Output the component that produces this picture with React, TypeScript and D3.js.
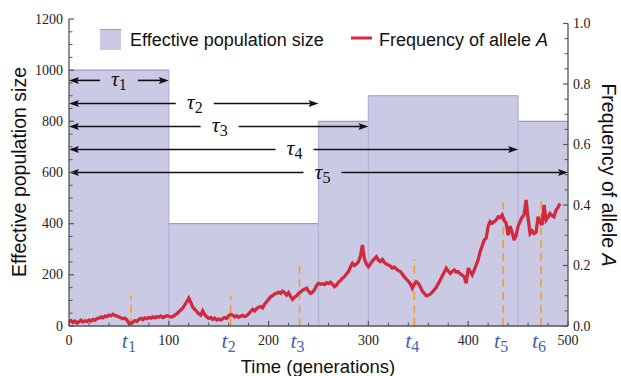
import React from "react";
import * as d3 from "d3";

// ---- data ----
const stepBounds = [0, 100, 250, 300, 450, 500];
const popSizes = [1000, 400, 800, 900, 800];

const freqStartGen = 0;
const freqStepGen = 2;
const alleleFreq = [
  0.015, 0.018, 0.012, 0.016, 0.010, 0.014, 0.019, 0.013, 0.017, 0.015,
  0.020, 0.016, 0.022, 0.019, 0.025, 0.026, 0.030, 0.027, 0.033, 0.031,
  0.036, 0.034, 0.039, 0.035, 0.033, 0.030, 0.027, 0.024, 0.026, 0.020,
  0.010, 0.008, 0.013, 0.018, 0.015, 0.022, 0.025, 0.021, 0.027, 0.024,
  0.028, 0.026, 0.030, 0.027, 0.031, 0.029, 0.033, 0.028, 0.031, 0.034,
  0.033, 0.030, 0.031, 0.036, 0.040, 0.047, 0.053, 0.060, 0.070, 0.080,
  0.092, 0.078, 0.062, 0.055, 0.048, 0.040, 0.036, 0.050, 0.038, 0.030,
  0.025, 0.028, 0.022, 0.026, 0.020, 0.023, 0.020, 0.024, 0.028, 0.025,
  0.034, 0.038, 0.036, 0.030, 0.034, 0.029, 0.032, 0.035, 0.031, 0.034,
  0.040, 0.048, 0.055, 0.050, 0.058, 0.062, 0.064, 0.060, 0.072, 0.080,
  0.088, 0.097, 0.100, 0.106, 0.108, 0.112, 0.108, 0.115, 0.110, 0.102,
  0.110, 0.098, 0.088, 0.095, 0.100, 0.108, 0.113, 0.118, 0.122, 0.125,
  0.115, 0.108, 0.112, 0.120, 0.133, 0.141, 0.138, 0.140, 0.137, 0.143,
  0.140, 0.145, 0.138, 0.130, 0.135, 0.145, 0.150, 0.158, 0.163, 0.172,
  0.180, 0.195, 0.207, 0.200, 0.205, 0.212, 0.230, 0.268, 0.222, 0.205,
  0.196, 0.205, 0.215, 0.222, 0.229, 0.218, 0.213, 0.220, 0.210, 0.205,
  0.202, 0.198, 0.191, 0.195, 0.188, 0.183, 0.180, 0.172, 0.162, 0.155,
  0.148, 0.140, 0.125, 0.138, 0.146, 0.141, 0.130, 0.115, 0.108, 0.100,
  0.102, 0.105, 0.112, 0.119, 0.128, 0.140, 0.152, 0.165, 0.178, 0.191,
  0.182, 0.174, 0.180, 0.185, 0.178, 0.180, 0.172, 0.168, 0.163, 0.141,
  0.191, 0.180, 0.169, 0.185, 0.202, 0.220, 0.246, 0.265, 0.284, 0.290,
  0.330, 0.345, 0.340, 0.345, 0.350, 0.361, 0.358, 0.367, 0.350, 0.340,
  0.300, 0.330, 0.310, 0.284, 0.300, 0.330, 0.345, 0.360, 0.367, 0.417,
  0.356, 0.306, 0.315, 0.306, 0.310, 0.361, 0.345, 0.334, 0.400, 0.350,
  0.360, 0.372, 0.365, 0.361, 0.383, 0.392, 0.405,
];

const sampleTimes = [62, 162, 231, 346, 435, 473];
const sampleTops = [0.10, 0.10, 0.215, 0.22, 0.408, 0.424];
const sampleLabels = ["1", "2", "3", "4", "5", "6"];

const tauEnds = [100, 250, 300, 450, 500];
const tauLevels = [960, 870, 780, 690, 600];
const tauLabelGen = [50, 126, 151, 226, 254];
const tauLabels = ["1", "2", "3", "4", "5"];

const xTicks = [0, 100, 200, 300, 400, 500];
const leftTicks = [0, 200, 400, 600, 800, 1000, 1200];
const rightTicks = [0, 0.2, 0.4, 0.6, 0.8, 1.0];

// ---- layout ----
const W = 621, H = 376;
const X0 = 69, X1 = 568, Y0 = 326, YTOP = 19, YTOPR = 23.5;

const FILL = "#cbcae5";
const EDGE = "#9a9acb";
const VEDGE = "#b3b2da";
const RED = "#d12a3e";
const ORANGE = "#f59b2a";
const BLUE = "#4a5fae";
const AXIS = "#555";
const SERIF = "'Liberation Serif', 'DejaVu Serif', serif";
const SANS = "'Liberation Sans', Arial, sans-serif";

export default function App() {
  const x = d3.scaleLinear().domain([0, 500]).range([X0, X1]);
  const yN = d3.scaleLinear().domain([0, 1200]).range([Y0, YTOP]);
  const yF = d3.scaleLinear().domain([0, 1]).range([Y0, YTOPR]);

  const freqPts = alleleFreq.map((f, i) => [freqStartGen + i * freqStepGen, f] as [number, number]);
  const line = d3.line<[number, number]>().x(d => x(d[0])).y(d => yF(d[1]));

  const areaPts: [number, number][] = [];
  popSizes.forEach((n, i) => {
    areaPts.push([stepBounds[i], n]);
    areaPts.push([stepBounds[i + 1], n]);
  });
  const area = d3.area<[number, number]>().x(d => x(d[0])).y0(Y0).y1(d => yN(d[1]));

  const leftMinor = d3.range(0, 1201, 50).filter(v => v % 200 !== 0);
  const bottomMinor = d3.range(0, 501, 20).filter(v => v % 100 !== 0);
  const rightMinor = d3.range(0, 1.001, 0.05).filter(v => Math.abs(v * 5 - Math.round(v * 5)) > 1e-6);

  const arrowHead = (px: number, py: number, dir: number) => {
    const L = 10, Hh = 3.5;
    return `M${px},${py} L${px - dir * L},${py - Hh} L${px - dir * L * 0.8},${py} L${px - dir * L},${py + Hh} Z`;
  };

  return (
    <svg width={W} height={H} style={{ position: "absolute", left: 0, top: 0, background: "#fff" }}>
      {/* population size area */}
      <path d={area(areaPts) || ""} fill={FILL} stroke="none" />
      {popSizes.map((n, i) => (
        <line key={"top" + i} x1={x(stepBounds[i])} x2={x(stepBounds[i + 1])} y1={yN(n)} y2={yN(n)} stroke={EDGE} strokeWidth={1.2} />
      ))}
      {stepBounds.slice(1, -1).map((b, i) => (
        <line key={"v" + i} x1={x(b)} x2={x(b)} y1={Y0} y2={yN(Math.max(popSizes[i], popSizes[i + 1]))} stroke={VEDGE} strokeWidth={1.3} />
      ))}

      {/* tau arrows */}
      {tauEnds.map((e, i) => {
        const y = yN(tauLevels[i]);
        const cx = x(tauLabelGen[i]);
        const gap = 19;
        const xa = x(0), xb = x(e);
        return (
          <g key={"tau" + i}>
            <line x1={xa + 6} x2={cx - gap} y1={y} y2={y} stroke="#111" strokeWidth={1.6} />
            <line x1={cx + gap} x2={xb - 6} y1={y} y2={y} stroke="#111" strokeWidth={1.6} />
            <path d={arrowHead(xa, y, -1)} fill="#111" />
            <path d={arrowHead(xb, y, 1)} fill="#111" />
            <text x={cx} y={y + 6} textAnchor="middle" fontFamily={SERIF} fontSize={22} fill="#111">
              <tspan fontStyle="italic">τ</tspan>
              <tspan fontSize={16} dy={4}>{tauLabels[i]}</tspan>
            </text>
          </g>
        );
      })}

      {/* sampling times */}
      {sampleTimes.map((t, i) => (
        <line key={"s" + i} x1={x(t)} x2={x(t)} y1={Y0} y2={yF(sampleTops[i])} stroke={ORANGE} strokeWidth={1.6} strokeDasharray="8,5" />
      ))}

      {/* frequency line */}
      <path d={line(freqPts) || ""} fill="none" stroke={RED} strokeWidth={3.3} strokeLinejoin="miter" strokeMiterlimit={3} />

      {/* axes */}
      <line x1={X0} x2={X0} y1={YTOP} y2={Y0} stroke={AXIS} strokeWidth={1.3} />
      <line x1={X0} x2={X1} y1={Y0} y2={Y0} stroke={AXIS} strokeWidth={1.3} />
      <line x1={X1} x2={X1} y1={YTOPR} y2={Y0} stroke={AXIS} strokeWidth={1.3} />

      {leftTicks.map(v => (
        <g key={"lt" + v}>
          <line x1={X0} x2={X0 + 5} y1={yN(v)} y2={yN(v)} stroke={AXIS} strokeWidth={1.2} />
          <text x={X0 - 6} y={yN(v) + 4.5} textAnchor="end" fontFamily={SERIF} fontSize={14} fill="#222">{v}</text>
        </g>
      ))}
      {leftMinor.map(v => (
        <line key={"lm" + v} x1={X0} x2={X0 + 3.5} y1={yN(v)} y2={yN(v)} stroke={AXIS} strokeWidth={1} />
      ))}

      {rightTicks.map(v => (
        <g key={"rt" + v}>
          <line x1={X1} x2={X1 - 5} y1={yF(v)} y2={yF(v)} stroke={AXIS} strokeWidth={1.2} />
          <text x={X1 + 5} y={yF(v) + 4.5} textAnchor="start" fontFamily={SERIF} fontSize={14} fill="#222">{v.toFixed(1)}</text>
        </g>
      ))}
      {rightMinor.map(v => (
        <line key={"rm" + v} x1={X1} x2={X1 - 3.5} y1={yF(v)} y2={yF(v)} stroke={AXIS} strokeWidth={1} />
      ))}

      {xTicks.map(v => (
        <g key={"xt" + v}>
          <line x1={x(v)} x2={x(v)} y1={Y0} y2={Y0 - 5} stroke={AXIS} strokeWidth={1.2} />
          <text x={x(v)} y={Y0 + 19} textAnchor="middle" fontFamily={SERIF} fontSize={14} fill="#222">{v}</text>
        </g>
      ))}
      {bottomMinor.map(v => (
        <line key={"bm" + v} x1={x(v)} x2={x(v)} y1={Y0} y2={Y0 - 3.5} stroke={AXIS} strokeWidth={1} />
      ))}

      {/* sample labels */}
      {sampleTimes.map((t, i) => (
        <text key={"sl" + i} x={x(t) - 2} y={Y0 + 22} textAnchor="middle" fontFamily={SERIF} fontSize={22} fill={BLUE}>
          <tspan fontStyle="italic">t</tspan>
          <tspan fontSize={16} dy={4}>{sampleLabels[i]}</tspan>
        </text>
      ))}

      {/* axis titles */}
      <text x={318} y={373} textAnchor="middle" fontFamily={SANS} fontSize={18.5} fill="#111">Time (generations)</text>
      <text transform="translate(26,172) rotate(-90)" textAnchor="middle" fontFamily={SANS} fontSize={19.5} fill="#111">Effective population size</text>
      <text transform="translate(602,175) rotate(90)" textAnchor="middle" fontFamily={SANS} fontSize={19.5} fill="#111">
        Frequency of allele <tspan fontStyle="italic">A</tspan>
      </text>

      {/* legend */}
      <rect x={100} y={29} width={21} height={21} fill={FILL} />
      <line x1={100} x2={121} y1={29.5} y2={29.5} stroke={EDGE} strokeWidth={1} />
      <text x={130} y={46} fontFamily={SANS} fontSize={18} fill="#111">Effective population size</text>
      <line x1={351} x2={372} y1={38} y2={38} stroke={RED} strokeWidth={3} />
      <text x={379} y={46} fontFamily={SANS} fontSize={18} fill="#111">
        Frequency of allele <tspan fontStyle="italic">A</tspan>
      </text>
    </svg>
  );
}
